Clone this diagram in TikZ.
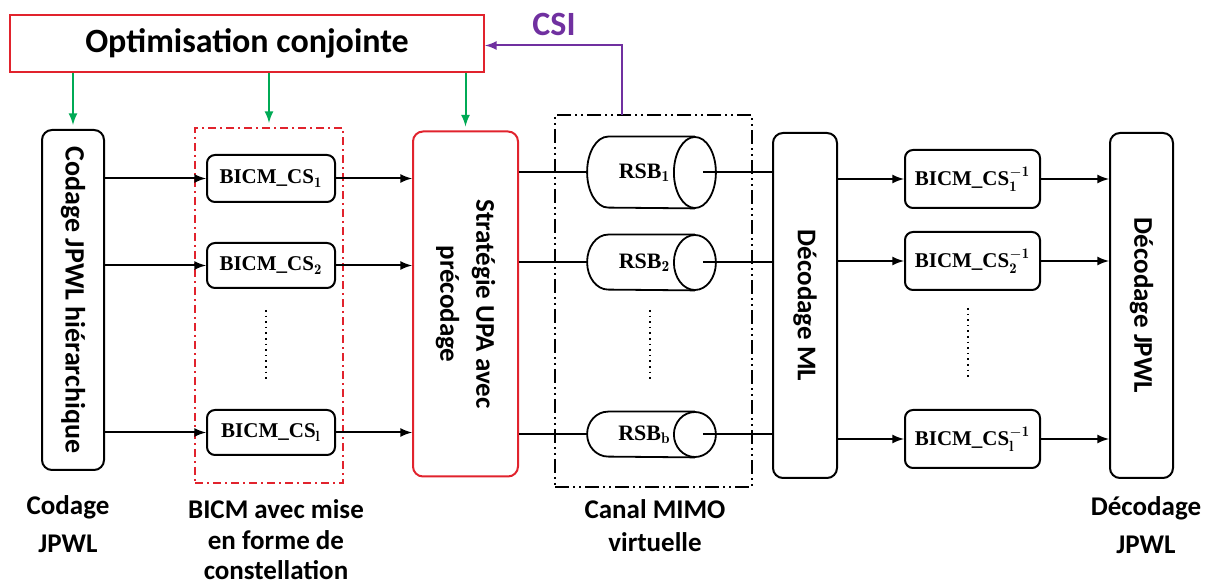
\documentclass[tikz,border=0pt]{standalone}
\usepackage{fontspec}
\newfontfamily\calib{Carlito}
\newfontfamily\timesb{Liberation Serif}
\usetikzlibrary{arrows,shapes,calc,positioning}
\definecolor{optred}{RGB}{225,35,45}
\definecolor{optgreen}{RGB}{0,170,85}
\definecolor{csipurple}{RGB}{112,48,160}
\tikzset{blockv/.style={
            draw,
            line width=1pt,
            rounded corners=5pt,
            inner sep=0pt,
            font=\calib\bfseries\fontsize{13.5}{18}\selectfont
        },
        csbox/.style={
            draw,
            line width=1pt,
            rounded corners=4pt,
            inner sep=0pt,
            minimum width=64pt,
            font=\timesb\bfseries\fontsize{10.5}{12}\selectfont
        },
        rsb/.style={
            inner sep=0pt,
            minimum width=64pt,
            font=\timesb\bfseries\fontsize{11}{12}\selectfont
        },
        tube/.style={
            line width=0.9pt
        },
        groupbox/.style={
            line width=1pt,
            inner sep=0pt
        },
        caption/.style={
            align=center,
            font=\calib\bfseries\fontsize{13.5}{19}\selectfont
        },
        link/.style={
            line width=1pt,
            >=latex
        },
        optlink/.style={
            line width=1pt,
            optgreen,
            >=latex
        }
    }
\begin{document}
\begin{tikzpicture}[x=0.5pt,y=-0.5pt]
        \useasboundingbox (0,0) rectangle (1206,587);

        % optimisation and feedback
        \node[draw=optred, line width=1pt, minimum width=237pt, minimum height=28.5pt,
              font=\calib\bfseries\fontsize{17}{20}\selectfont] (opt) at (247,43.5) {Optimisation conjointe};
        \node[text=csipurple, font=\calib\bfseries\fontsize{17}{18}\selectfont] (csi) at (554,24) {CSI};

        % emitter side
        \node[blockv, minimum width=31pt, minimum height=170pt, font=\calib\bfseries\fontsize{14}{18}\selectfont] (code) at (73,300)
            {\rotatebox{-90}{Codage JPWL hiérarchique}};
        \node[groupbox, draw=optred, dash pattern=on 4pt off 2pt on 1pt off 2pt,
              minimum width=74pt, minimum height=177.5pt] (bicm) at (269,305.5) {};
        \node[csbox, minimum height=23.5pt] (cs1) at (271,178.5) {BICM\_CS$_{\mathbf{1}}$};
        \node[csbox, minimum height=22.5pt] (cs2) at (271,265.5) {BICM\_CS$_{\mathbf{2}}$};
        \node[csbox, minimum height=22.5pt] (csl) at (271,432.5) {BICM\_CS$_{\mathbf{l}}$};
        \node[blockv, draw=optred, minimum width=52.5pt, minimum height=172.5pt] (upa) at (465.5,304)
            {\rotatebox{-90}{\begin{tabular}{@{}c@{}}Stratégie UPA avec\\précodage\end{tabular}}};

        % channel
        \node[groupbox, draw, dash pattern=on 7pt off 2pt on 1pt off 2pt on 1pt off 2pt,
              minimum width=98.5pt, minimum height=186pt] (chan) at (653.5,301) {};
        \node[rsb, minimum height=35.5pt] (rsb1) at (651.5,172.5) {RSB$_{\mathbf{1}}$\hspace*{7pt}};
        \node[rsb, minimum height=27.5pt] (rsb2) at (651.5,262.5) {RSB$_{\mathbf{2}}$\hspace*{7pt}};
        \node[rsb, minimum height=22.5pt] (rsbb) at (651.5,434.5) {RSB$_{\mathbf{b}}$\hspace*{7pt}};
        \foreach \n/\ry in {rsb1/17.75pt,rsb2/13.75pt,rsbb/11.25pt}{
            \draw[tube] ([xshift=-10.5pt]\n.north east) -- ([xshift=10.5pt]\n.north west)
                arc[start angle=90, end angle=270, x radius=10.5pt, y radius=\ry]
                -- ([xshift=-10.5pt]\n.south east);
            \draw[tube] ([xshift=-10.5pt]\n.east) ellipse [x radius=10.5pt, y radius=\ry];
        }

        % receiver side
        \node[blockv, minimum width=32pt, minimum height=172.5pt] (ml) at (805,305.5)
            {\rotatebox{-90}{Décodage ML}};
        \node[csbox, minimum width=67.5pt, minimum height=29pt] (inv1) at (972.5,179) {BICM\_CS$_{\mathbf{1}}^{\mathbf{-1}}$};
        \node[csbox, minimum width=67.5pt, minimum height=29pt] (inv2) at (972.5,261) {BICM\_CS$_{\mathbf{2}}^{\mathbf{-1}}$};
        \node[csbox, minimum width=67.5pt, minimum height=29pt] (invl) at (972.5,439) {BICM\_CS$_{\mathbf{l}}^{\mathbf{-1}}$};
        \node[blockv, minimum width=31.5pt, minimum height=172.5pt] (djp) at (1141.5,305.5)
            {\rotatebox{-90}{Décodage JPWL}};

        % captions
        \node[caption] (capcode) at (68,524) {Codage\\JPWL};
        \node[caption, font=\calib\bfseries\fontsize{13.5}{15.3}\selectfont] (capbicm) at (276,540) {BICM avec mise\\en forme de\\constellation};
        \node[caption, font=\calib\bfseries\fontsize{13.5}{16.5}\selectfont] (capchan) at (655,526) {Canal MIMO\\virtuelle};
        \node[caption] (capdjp) at (1146,525) {Décodage\\JPWL};

        % links
        \foreach \n in {cs1,cs2,csl}{
            \draw[link,->] (code.east |- \n.west) -- (\n.west);
            \draw[link,->] (\n.east) -- (\n.east -| upa.west);
        }
        \foreach \n in {rsb1,rsb2,rsbb}{
            \draw[link] (upa.east |- \n.west) -- (\n.west);
            \draw[link] ([xshift=-6.5pt]\n.east) -- (ml.west |- \n.east);
        }
        \foreach \n in {inv1,inv2,invl}{
            \draw[link,->] (ml.east |- \n.west) -- (\n.west);
            \draw[link,->] (\n.east) -- (\n.east -| djp.west);
        }
        \foreach \n in {code,bicm,upa}{
            \draw[optlink,->] (opt.south -| \n.north) -- ([yshift=2pt]\n.north);
        }
        \coordinate (csifoot) at (622,115);
        \draw[link,csipurple,->] (csifoot) |- ([yshift=-1pt]opt.east);

        % dots
        \draw[dotted, line width=0.8pt] (266,310) -- (266,382);
        \draw[dotted, line width=0.8pt] (650,310) -- (650,382);
        \draw[dotted, line width=0.8pt] (968,308) -- (968,380);
    \end{tikzpicture}
\end{document}
